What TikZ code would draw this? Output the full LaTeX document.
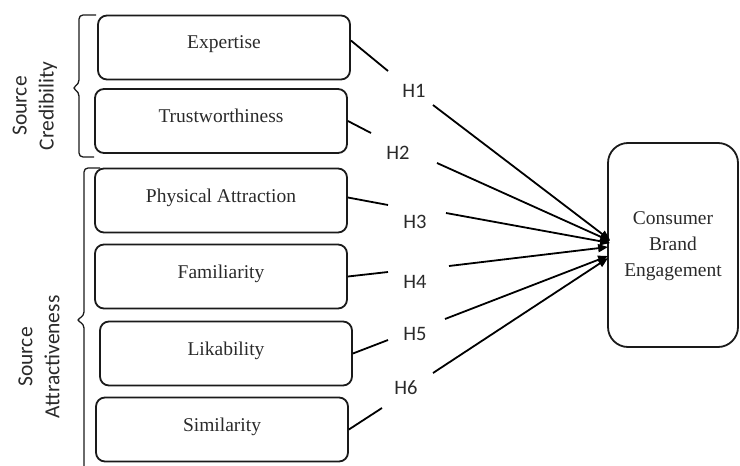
\documentclass[tikz,border=0pt]{standalone}
\usepackage{fontspec}
\setmainfont{Liberation Serif}
\newfontfamily\labelfont{Carlito}
\usetikzlibrary{arrows.meta}
\definecolor{ink}{HTML}{1A1A1A}
\definecolor{txt}{HTML}{2A2A2A}
\begin{document}
\begin{tikzpicture}[x=1pt,y=-1pt,
  factor/.style={draw=ink, line width=1.8pt, rounded corners=9pt,
    minimum width=252pt, minimum height=64pt, inner sep=0pt, text=txt,
    font=\fontsize{19.5}{24}\selectfont},
  outcome/.style={draw=ink, line width=1.8pt, rounded corners=20pt,
    minimum width=130pt, minimum height=204pt, inner sep=0pt, text=txt,
    font=\fontsize{19.5}{26}\selectfont},
  hyp/.style={font=\labelfont\fontsize{20.5}{24}\selectfont, inner sep=0pt, text=txt},
  group/.style={font=\labelfont\fontsize{21.5}{27}\selectfont, rotate=90,
    align=center, inner sep=0pt, text=txt},
  link/.style={line width=1.8pt, draw=black},
  into/.style={link, -{Triangle[length=10pt,width=8pt]}},
  bracket/.style={line width=1.3pt, draw=ink, rounded corners=4pt}
]
\useasboundingbox (0,0) rectangle (740,466);

% antecedent factors
\node[factor] (exp) at (224,47.5)  {\raisebox{10pt}{Expertise}};
\node[factor] (tru) at (221,121)   {\raisebox{10pt}{Trustworthiness}};
\node[factor] (phy) at (221,200.5) {\raisebox{10pt}{Physical Attraction}};
\node[factor] (fam) at (221,276.5) {\raisebox{10pt}{Familiarity}};
\node[factor] (lik) at (226,353.5) {\raisebox{10pt}{Likability}};
\node[factor] (sim) at (222,429.5) {\raisebox{10pt}{Similarity}};

% outcome
\node[outcome] (cbe) at (673,245)
  {\raisebox{13pt}{\tabcolsep=0pt\begin{tabular}{c}Consumer\\Brand\\Engagement\end{tabular}}};

% grouping brackets and their labels
\draw[bracket] (96,15) -- (79,15) -- (79,84) -- (72,88) -- (79,92) -- (79,157) -- (94,157);
\draw[bracket] (100,168) -- (84,168) -- (84,316) -- (76,320) -- (84,324) -- (84,480);
\node[group] (cred) at (35,106) {Source\\Credibility};
\node[group] (attr) at (39,357) {Source\\Attractiveness};

% hypothesis labels
\node[hyp] (h1) at (414,91)  {H1};
\node[hyp] (h2) at (398,153) {H2};
\node[hyp] (h3) at (415,222) {H3};
\node[hyp] (h4) at (415,282) {H4};
\node[hyp] (h5) at (415,334) {H5};
\node[hyp] (h6) at (406,388) {H6};

% break points of each path around its label
\coordinate (a1) at (388,71);  \coordinate (b1) at (433,105);
\coordinate (a2) at (371,133); \coordinate (b2) at (437,163);
\coordinate (a3) at (388,205); \coordinate (b3) at (446,213);
\coordinate (a4) at (388,272); \coordinate (b4) at (449,266);
\coordinate (a5) at (388,340); \coordinate (b5) at (445,319);
\coordinate (a6) at (382,408); \coordinate (b6) at (433,373);

\draw[link] ([yshift=7pt]exp.east) -- (a1);
\draw[into] (b1) -- ([xshift=3pt,yshift=5pt]cbe.west);
\draw[link] (tru.east) -- (a2);
\draw[into] (b2) -- ([xshift=3pt,yshift=4pt]cbe.west);
\draw[link] ([yshift=3pt]phy.east) -- (a3);
\draw[into] (b3) -- ([xshift=3pt,yshift=2pt]cbe.west);
\draw[link] (fam.east) -- (a4);
\draw[into] (b4) -- ([xshift=1pt,yshift=-2pt]cbe.west);
\draw[link] (lik.east) -- (a5);
\draw[into] (b5) -- ([xshift=1pt,yshift=-11pt]cbe.west);
\draw[link] (sim.east) -- (a6);
\draw[into] (b6) -- ([xshift=1pt,yshift=-13pt]cbe.west);
\end{tikzpicture}
\end{document}
